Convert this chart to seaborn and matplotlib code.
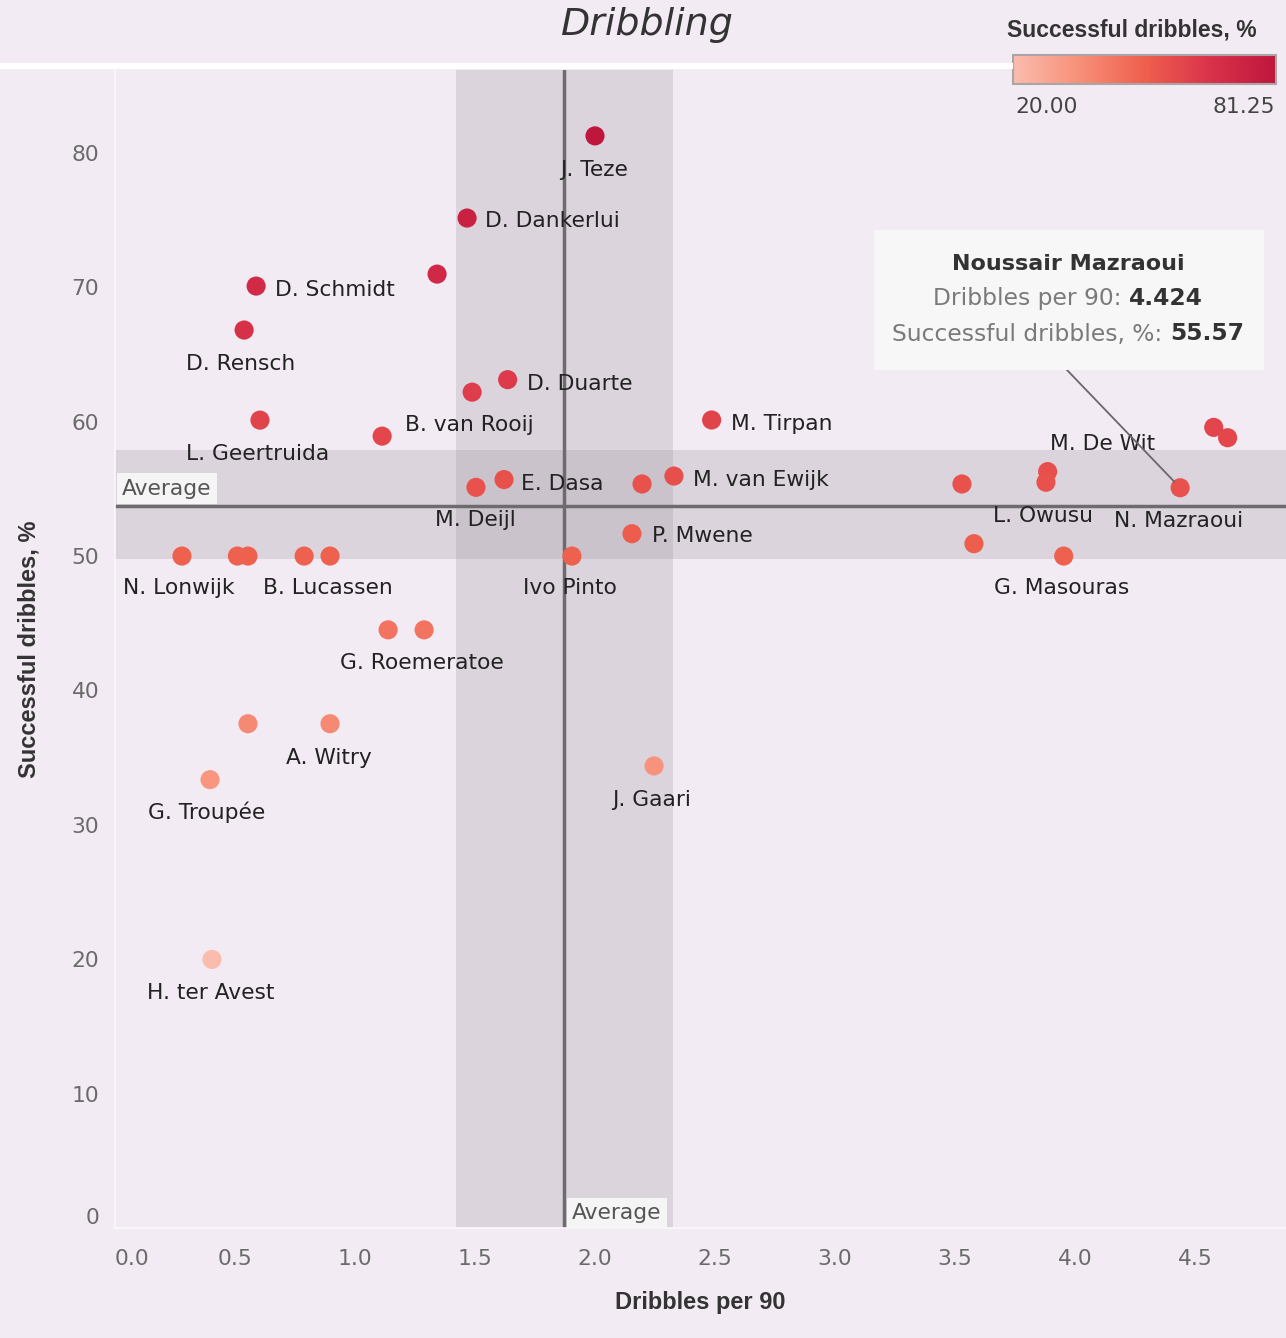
import matplotlib
matplotlib.use("Agg")
import matplotlib.pyplot as plt
import seaborn as sns
import pandas as pd
from matplotlib.colors import LinearSegmentedColormap, Normalize
from matplotlib.cm import ScalarMappable
from matplotlib.offsetbox import TextArea, HPacker, VPacker, AnnotationBbox
from matplotlib.patches import Rectangle
from matplotlib.transforms import IdentityTransform

# ---------------------------------------------------------------------------
# Data; "" = point drawn without a label
# ---------------------------------------------------------------------------

players = [
    "J. Teze", "D. Dankerlui", "", "D. Schmidt", "D. Rensch", "L. Geertruida",
    "B. van Rooij", "", "D. Duarte", "M. Tirpan", "E. Dasa", "M. Deijl", "",
    "M. van Ewijk", "P. Mwene", "Ivo Pinto", "N. Lonwijk", "", "", "",
    "B. Lucassen", "", "G. Roemeratoe", "", "A. Witry", "G. Troupée",
    "H. ter Avest", "J. Gaari", "", "", "M. De Wit", "L. Owusu", "G. Masouras",
    "N. Mazraoui", "", "",
]
dribbles_per_90 = [
    2.0, 1.467, 1.342, 0.588, 0.538, 0.604, 1.113, 1.488, 1.636, 2.486,
    1.621, 1.504, 2.196, 2.329, 2.154, 1.904, 0.279, 0.51, 0.554, 0.788,
    0.896, 1.138, 1.288, 0.554, 0.896, 0.396, 0.404, 2.246, 3.529, 3.579,
    3.886, 3.879, 3.953, 4.438, 4.578, 4.636,
]
successful_pct = [
    81.25, 75.14, 70.97, 70.08, 66.81, 60.11, 58.92, 62.19, 63.12, 60.12,
    55.69, 55.11, 55.36, 55.95, 51.66, 50.0, 50.0, 50.0, 50.0, 50.0,
    50.0, 44.51, 44.51, 37.53, 37.53, 33.37, 20.0, 34.39, 55.36, 50.92,
    56.28, 55.49, 50.0, 55.08, 59.57, 58.80,
]

# reference lines / bands
avg_dribbles = 1.871
band_dribbles = (1.421, 2.325)
avg_success = 53.74
band_success = (49.76, 57.89)

x_ticks = [0.0, 0.5, 1.0, 1.5, 2.0, 2.5, 3.0, 3.5, 4.0, 4.5]
y_ticks = [0, 10, 20, 30, 40, 50, 60, 70, 80]
hue_range = (20.0, 81.25)

tooltip_name = "Noussair Mazraoui"
tooltip_rows = [("Dribbles per 90: ", "4.424"), ("Successful dribbles, %: ", "55.57")]

# label placement: (dx px, dy px down to text centre, alignment)
label_offsets = {
    "J. Teze": (-1, 32, "center"), "D. Dankerlui": (18, 1, "left"),
    "D. Schmidt": (19, 2, "left"), "D. Rensch": (-3, 32, "center"),
    "L. Geertruida": (-2, 32, "center"), "B. van Rooij": (23, -13, "left"),
    "D. Duarte": (19, 2, "left"), "M. Tirpan": (19, 2, "left"),
    "E. Dasa": (17, 2, "left"), "M. Deijl": (-1, 31, "center"),
    "M. van Ewijk": (19, 2, "left"), "P. Mwene": (20, 0, "left"),
    "Ivo Pinto": (-2, 30, "center"), "N. Lonwijk": (-3, 30, "center"),
    "B. Lucassen": (-2, 30, "center"), "G. Roemeratoe": (-2, 31, "center"),
    "A. Witry": (-1, 32, "center"), "G. Troupée": (-3, 31, "center"),
    "H. ter Avest": (-1, 32, "center"), "J. Gaari": (-2, 32, "center"),
    "M. De Wit": (55, -30, "center"), "L. Owusu": (-3, 32, "center"),
    "N. Mazraoui": (-2, 31, "center"), "G. Masouras": (-2, 30, "center"),
}

# ---------------------------------------------------------------------------
# Style
# ---------------------------------------------------------------------------

BG = "#f2ebf3"
sns.set_style("white", {"axes.facecolor": BG, "figure.facecolor": BG})
plt.rcParams["font.family"] = ["DejaVu Sans"]

cmap = LinearSegmentedColormap.from_list(
    "reds", ["#fbbcae", "#f79079", "#ef5f4d", "#d9324a", "#be163d"]
)
norm = Normalize(*hue_range)

W, H = 1286, 1338
fig = plt.figure(figsize=(W / 100, H / 100), dpi=100)


def fx(px):
    return px / W


def fy(py):
    return 1 - py / H


ax = fig.add_axes([fx(115), fy(1228.3), fx(1286) - fx(115), fy(70) - fy(1228.3)])
ax.set_facecolor(BG)
ax.set_xlim(0, (1286 - 115) / 240)
ax.set_ylim(0, (1228.3 - 70) / 13.445)

ax.axvspan(*band_dribbles, color="#98929a", alpha=0.25, lw=0, zorder=1)
ax.axhspan(*band_success, color="#98929a", alpha=0.25, lw=0, zorder=1)
ax.axvline(avg_dribbles, color="#6f6a70", lw=2.5, zorder=2)
ax.axhline(avg_success, color="#6f6a70", lw=2.5, zorder=2)

df = pd.DataFrame({"player": players, "dribbles": dribbles_per_90, "success": successful_pct})
sns.scatterplot(
    data=df, x="dribbles", y="success", hue="success", palette=cmap, hue_norm=norm,
    s=190, linewidth=0, legend=False, ax=ax, zorder=3,
)

for _, row in df.iterrows():
    if not row["player"]:
        continue
    dx, dy, ha = label_offsets[row["player"]]
    ax.annotate(
        row["player"], xy=(row["dribbles"], row["success"]),
        xytext=(dx, -(dy + 8)), textcoords="offset pixels",
        ha=ha, va="baseline", fontsize=15.7, color="#222222", zorder=4,
    )

# "Average" tags
box = dict(boxstyle="square,pad=0.25", fc="#f6f5f6", ec="none")
ax.annotate("Average", xy=(0, avg_success), xycoords=("axes fraction", "data"),
            xytext=(7, 7), textcoords="offset pixels", ha="left", va="bottom",
            fontsize=15.7, color="#555555", bbox=box, zorder=4)
ax.annotate("Average", xy=(avg_dribbles, 0), xycoords=("data", "axes fraction"),
            xytext=(8, 5), textcoords="offset pixels", ha="left", va="bottom",
            fontsize=15.7, color="#555555", bbox=box, zorder=4)

# axes
for side in ["top", "right"]:
    ax.spines[side].set_visible(False)
for side in ["left", "bottom"]:
    ax.spines[side].set_color("#fbf9fb")
    ax.spines[side].set_linewidth(1.2)

ax.set_xticks(x_ticks)
ax.set_xticklabels([f"{t:.1f}" for t in x_ticks])
ax.set_yticks(y_ticks)
ax.set_yticklabels([str(t) for t in y_ticks])
ax.tick_params(axis="y", length=7.7, width=1.2, color="#fbf9fb", pad=3.6,
               labelsize=15.7, labelcolor="#6a6a6a")
ax.tick_params(axis="x", length=5.8, width=1.2, color="#fbf9fb", pad=9,
               labelsize=15.7, labelcolor="#6a6a6a")
ax.get_xticklabels()[0].set_ha("left")
ax.get_yticklabels()[0].set_va("bottom")
ax.get_yticklabels()[0].set_y(0.3)

ax.set_xlabel("Dribbles per 90", family="Liberation Sans", weight="bold",
              fontsize=17, color="#333333", labelpad=16)
ax.set_ylabel("Successful dribbles, %", family="Liberation Sans", weight="bold",
              fontsize=17, color="#333333", labelpad=22)

# tooltip
fig.add_artist(Rectangle((874, H - 370), 390, 140, transform=IdentityTransform(),
                         fc="#f8f7f8", ec="none", zorder=5))
i_maz = players.index("N. Mazraoui")
ax.annotate("", xy=(dribbles_per_90[i_maz], successful_pct[i_maz]),
            xytext=(1067, H - 370), textcoords="figure pixels",
            arrowprops=dict(arrowstyle="-", color="#6a666b", lw=1.3,
                            shrinkA=0, shrinkB=6), zorder=5)
lines = [TextArea(tooltip_name, textprops=dict(weight="bold", color="#333333", size=16))]
for label, val in tooltip_rows:
    lines.append(HPacker(children=[
        TextArea(label, textprops=dict(color="#7a7a7a", size=16.8)),
        TextArea(val, textprops=dict(color="#333333", size=16.8, weight="bold")),
    ], pad=0, sep=0, align="baseline"))
tip = AnnotationBbox(VPacker(children=lines, align="center", pad=0, sep=9),
                     xy=(1068, H - 300), xycoords="figure pixels",
                     box_alignment=(0.5, 0.5), frameon=False, zorder=6)
fig.add_artist(tip)

# header line, title, colour legend
fig.add_artist(Rectangle((0, H - 69), 1013, 6, transform=IdentityTransform(),
                         fc="white", ec="none", zorder=1))
fig.text(fx(647), fy(35), "Dribbling", ha="center", va="baseline", fontsize=27.4,
         style="italic", color="#333333")

cax = fig.add_axes([fx(1013), fy(84), fx(1276) - fx(1013), fy(55) - fy(84)])
cb = fig.colorbar(ScalarMappable(norm=norm, cmap=cmap), cax=cax, orientation="horizontal")
cax.set_xticks([])
cb.outline.set_edgecolor("#aaa6a8")
cb.outline.set_linewidth(1.5)
fig.text(fx(1007), fy(36), "Successful dribbles, %", ha="left", va="baseline",
         family="Liberation Sans", weight="bold", fontsize=16.5, color="#333333")
fig.text(fx(1015), fy(113), f"{hue_range[0]:.2f}", ha="left", va="baseline",
         fontsize=15.7, color="#444444")
fig.text(fx(1275), fy(113), f"{hue_range[1]:.2f}", ha="right", va="baseline",
         fontsize=15.7, color="#444444")

fig.savefig("out.png", dpi=100, facecolor=BG)
